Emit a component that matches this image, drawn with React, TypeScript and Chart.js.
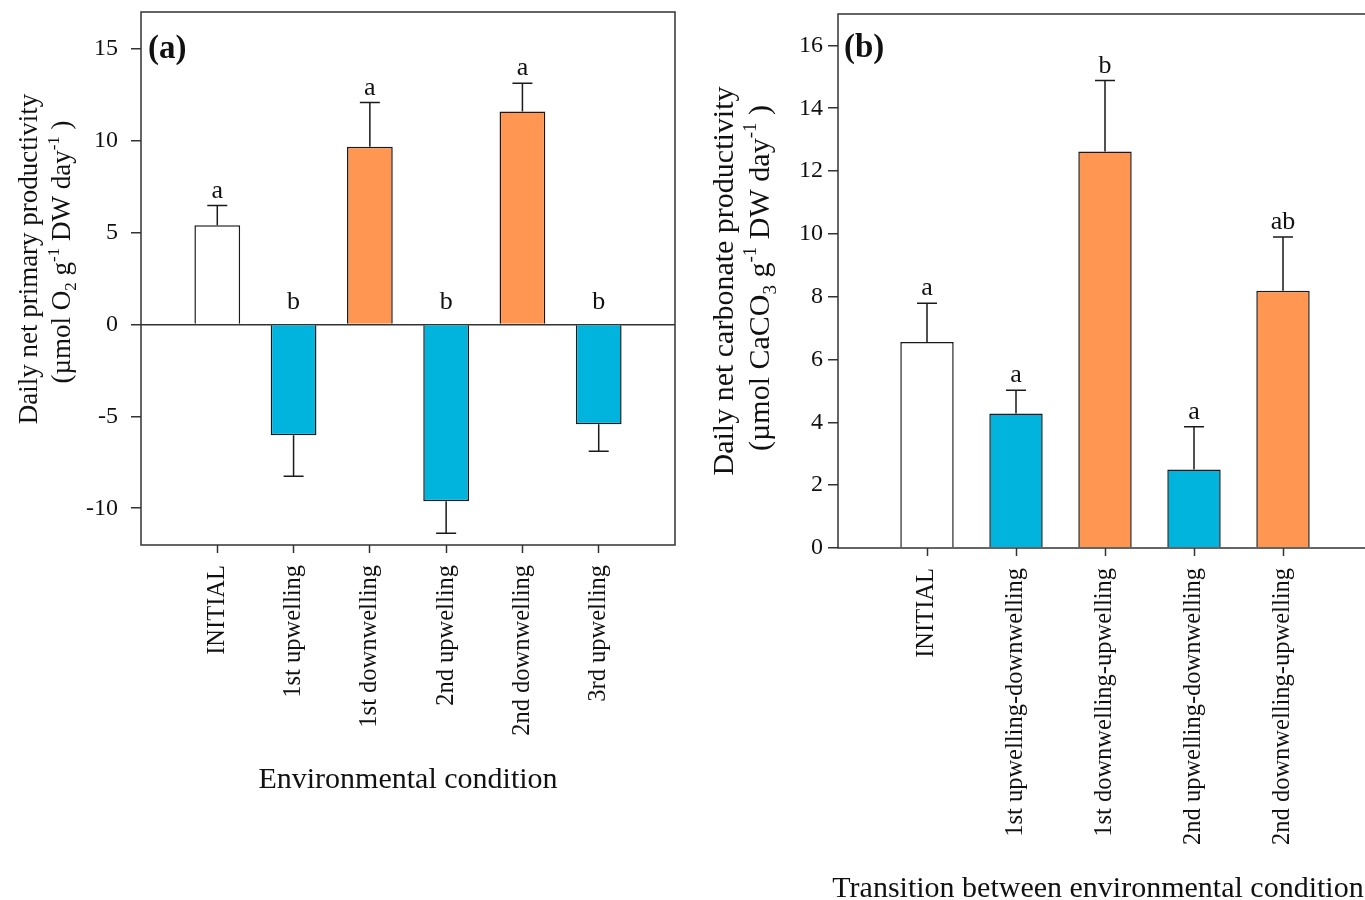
import React, { useEffect, useRef } from 'react';
import { Chart, registerables } from 'chart.js';

Chart.register(...registerables);

const FONT = "'Liberation Serif', 'Times New Roman', Times, serif";

// ---------- Panel (a): daily net primary productivity ----------
const conditionsA = ['INITIAL', '1st upwelling', '1st downwelling', '2nd upwelling', '2nd downwelling', '3rd upwelling'];
const nppMean = [5.4, -6.03, 9.67, -9.62, 11.58, -5.43];
const nppSE = [1.07, 2.23, 2.4, 1.74, 1.55, 1.47];
const nppLetters = ['a', 'b', 'a', 'b', 'a', 'b'];
const nppPhase = ['initial', 'up', 'down', 'up', 'down', 'up'];
const nppTicks = [-10, -5, 0, 5, 10, 15];

// ---------- Panel (b): daily net carbonate productivity ----------
const transitionsB = ['INITIAL', '1st upwelling-downwelling', '1st downwelling-upwelling', '2nd upwelling-downwelling', '2nd downwelling-upwelling'];
const ncpMean = [6.56, 4.28, 12.62, 2.5, 8.19];
const ncpSE = [1.23, 0.74, 2.26, 1.36, 1.71];
const ncpLetters = ['a', 'a', 'b', 'a', 'ab'];
const ncpPhase = ['initial', 'up', 'down', 'up', 'down'];
const ncpTicks = [0, 2, 4, 6, 8, 10, 12, 14, 16];

const PHASE_COLORS: Record<string, string> = {
  initial: '#ffffff',
  up: '#00b4de',
  down: '#ff9752',
};

type Seg = { t: string; s?: 'sub' | 'sup' };

const panelA = {
  cats: conditionsA,
  mean: nppMean,
  se: nppSE,
  letters: nppLetters,
  phase: nppPhase,
  ticks: nppTicks,
  yMin: -12,
  yMax: 17,
  tag: '(a)',
  tagSize: 33,
  yTitle1: [{ t: 'Daily net primary productivity' }] as Seg[],
  yTitle2: [
    { t: '(µmol O' }, { t: '2', s: 'sub' }, { t: ' g' }, { t: '-1', s: 'sup' },
    { t: ' DW day' }, { t: '-1', s: 'sup' }, { t: ' )' },
  ] as Seg[],
  xTitle: 'Environmental condition',
  xTitleShift: 0,
  padTop: 12,
  padRight: 25,
  yWidth: 141,
  xHeight: 355,
  yTickLen: 10,
  yTickPad: 13,
  titleSize: 27,
  title1X: 37,
  title2X: 70,
  title1Y: 259,
  title2Y: 252,
  xTitleY: 788,
  tagX: 148,
  tagY: 58,
  zeroLine: true,
};

const panelB = {
  cats: transitionsB,
  mean: ncpMean,
  se: ncpSE,
  letters: ncpLetters,
  phase: ncpPhase,
  ticks: ncpTicks,
  yMin: 0,
  yMax: 17,
  tag: '(b)',
  tagSize: 33,
  yTitle1: [{ t: 'Daily net carbonate productivity' }] as Seg[],
  yTitle2: [
    { t: '(µmol CaCO' }, { t: '3', s: 'sub' }, { t: ' g' }, { t: '-1', s: 'sup' },
    { t: ' DW day' }, { t: '-1', s: 'sup' }, { t: ' )' },
  ] as Seg[],
  xTitle: 'Transition between environmental condition',
  xTitleShift: -7,
  padTop: 14,
  padRight: 28,
  yWidth: 138,
  xHeight: 352,
  yTickLen: 10,
  yTickPad: 5,
  titleSize: 30,
  title1X: 33,
  title2X: 69,
  title1Y: 281,
  title2Y: 278,
  xTitleY: 897,
  tagX: 144,
  tagY: 57,
  zeroLine: false,
};

function drawRich(ctx: CanvasRenderingContext2D, segs: Seg[], size: number, bx: number, cy: number) {
  ctx.save();
  ctx.translate(bx, cy);
  ctx.rotate(-Math.PI / 2);
  ctx.fillStyle = '#111';
  ctx.textBaseline = 'alphabetic';
  ctx.textAlign = 'left';
  const small = Math.round(size * 0.62);
  const widths = segs.map((s) => {
    ctx.font = `${s.s ? small : size}px ${FONT}`;
    return ctx.measureText(s.t).width;
  });
  const total = widths.reduce((a, b) => a + b, 0);
  let x = -total / 2;
  segs.forEach((s, i) => {
    ctx.font = `${s.s ? small : size}px ${FONT}`;
    const dy = s.s === 'sub' ? size * 0.22 : s.s === 'sup' ? -size * 0.42 : 0;
    ctx.fillText(s.t, x, dy);
    x += widths[i];
  });
  ctx.restore();
}

function buildConfig(cfg: any) {
  const labels = ['', ...cfg.cats, ''];
  const data = [null, ...cfg.mean, null];
  const colors = ['#fff', ...cfg.phase.map((p: string) => PHASE_COLORS[p]), '#fff'];

  const decor = {
    id: 'decor',
    afterDatasetsDraw(chart: any) {
      const ctx = chart.ctx as CanvasRenderingContext2D;
      const y = chart.scales.y;
      const meta = chart.getDatasetMeta(0);
      ctx.save();
      ctx.strokeStyle = '#1a1a1a';
      ctx.lineWidth = 1.5;
      cfg.mean.forEach((m: number, i: number) => {
        const bar = meta.data[i + 1];
        const x = bar.x;
        const y0 = y.getPixelForValue(m);
        const end = m >= 0 ? m + cfg.se[i] : m - cfg.se[i];
        const y1 = y.getPixelForValue(end);
        ctx.beginPath();
        ctx.moveTo(x, y0);
        ctx.lineTo(x, y1);
        ctx.moveTo(x - 10, y1);
        ctx.lineTo(x + 10, y1);
        ctx.stroke();
        ctx.fillStyle = '#111';
        ctx.font = `26px ${FONT}`;
        ctx.textAlign = 'center';
        ctx.textBaseline = 'alphabetic';
        const ly = m >= 0 ? y1 - 8 : y.getPixelForValue(0) - 15;
        ctx.fillText(cfg.letters[i], x, ly);
      });
      ctx.restore();
    },
    afterDraw(chart: any) {
      const ctx = chart.ctx as CanvasRenderingContext2D;
      const a = chart.chartArea;
      ctx.save();
      ctx.strokeStyle = '#333';
      ctx.lineWidth = 1.5;
      ctx.strokeRect(a.left, a.top, a.right - a.left, a.bottom - a.top);
      // panel tag
      ctx.fillStyle = '#111';
      ctx.font = `bold ${cfg.tagSize}px ${FONT}`;
      ctx.textAlign = 'left';
      ctx.textBaseline = 'alphabetic';
      ctx.fillText(cfg.tag, cfg.tagX, cfg.tagY);
      // x title
      ctx.font = `30px ${FONT}`;
      ctx.textAlign = 'center';
      ctx.fillText(cfg.xTitle, (a.left + a.right) / 2 + cfg.xTitleShift, cfg.xTitleY);
      ctx.restore();
      // y titles
      drawRich(ctx, cfg.yTitle1, cfg.titleSize, cfg.title1X, cfg.title1Y);
      drawRich(ctx, cfg.yTitle2, cfg.titleSize, cfg.title2X, cfg.title2Y);
    },
  };

  return {
    type: 'bar',
    data: {
      labels,
      datasets: [
        {
          data,
          backgroundColor: colors,
          borderColor: '#1a1a1a',
          borderWidth: 1.5,
          borderSkipped: 'start',
          categoryPercentage: 1,
          barPercentage: 0.6,
        },
      ],
    },
    options: {
      responsive: false,
      animation: false,
      devicePixelRatio: 1,
      layout: { padding: { top: cfg.padTop, right: cfg.padRight, left: 0, bottom: 0 } },
      plugins: { legend: { display: false }, tooltip: { enabled: false }, title: { display: false } },
      scales: {
        x: {
          type: 'category',
          offset: false,
          border: { display: false },
          grid: {
            display: true,
            offset: false,
            drawOnChartArea: false,
            drawTicks: true,
            tickLength: 8,
            tickWidth: 1.5,
            tickColor: (c: any) => (c.index === 0 || c.index === labels.length - 1 ? 'rgba(0,0,0,0)' : '#333'),
          },
          ticks: {
            autoSkip: false,
            minRotation: 90,
            maxRotation: 90,
            padding: 12,
            color: '#111',
            font: { family: FONT, size: 24.5 },
          },
          afterFit: (s: any) => {
            s.height = cfg.xHeight;
            s.paddingLeft = 0;
            s.paddingRight = 0;
          },
        },
        y: {
          type: 'linear',
          min: cfg.yMin,
          max: cfg.yMax,
          border: { display: false },
          grid: {
            drawOnChartArea: true,
            drawTicks: true,
            color: (c: any) => (cfg.zeroLine && c.tick && c.tick.value === 0 ? '#333' : 'rgba(0,0,0,0)'),
            lineWidth: 1.5,
            tickColor: '#333',
            tickLength: cfg.yTickLen,
            tickWidth: 1.5,
          },
          ticks: {
            padding: cfg.yTickPad,
            color: '#111',
            font: { family: FONT, size: 24 },
          },
          afterBuildTicks: (s: any) => {
            s.ticks = cfg.ticks.map((v: number) => ({ value: v }));
          },
          afterFit: (s: any) => {
            s.width = cfg.yWidth;
            s.paddingTop = 0;
            s.paddingBottom = 0;
          },
        },
      },
    },
    plugins: [decor],
  } as any;
}

function Panel({ cfg, left, width }: { cfg: any; left: number; width: number }) {
  const ref = useRef<HTMLCanvasElement>(null);
  useEffect(() => {
    const chart = new Chart(ref.current as HTMLCanvasElement, buildConfig(cfg));
    return () => chart.destroy();
  }, [cfg]);
  return (
    <canvas
      ref={ref}
      width={width}
      height={900}
      style={{ position: 'absolute', left, top: 0, width, height: 900 }}
    />
  );
}

export default function App() {
  return (
    <div
      style={{
        position: 'absolute',
        left: 0,
        top: 0,
        width: 1365,
        height: 900,
        overflow: 'hidden',
        background: '#ffffff',
      }}
    >
      <Panel cfg={panelA} left={0} width={700} />
      <Panel cfg={panelB} left={700} width={700} />
    </div>
  );
}
